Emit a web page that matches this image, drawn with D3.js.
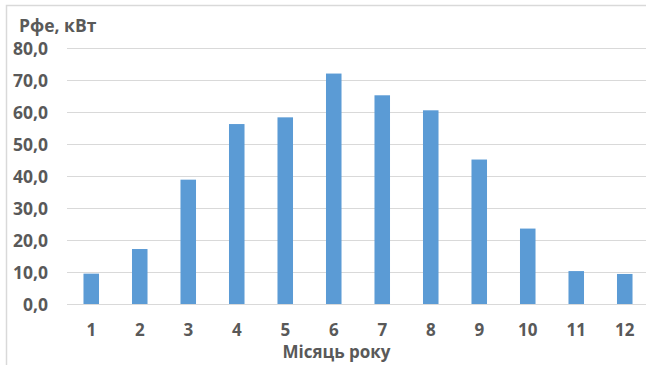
<!DOCTYPE html>
<html><head><meta charset="utf-8">
<script src="https://cdn.jsdelivr.net/npm/d3@7"></script>
<style>body{margin:0;background:#fff;overflow:hidden}svg{display:block}</style>
</head><body>
<script>
const months = ["1","2","3","4","5","6","7","8","9","10","11","12"];
const values = [9.5, 17.2, 38.9, 56.3, 58.4, 72.1, 65.3, 60.6, 45.2, 23.6, 10.3, 9.4];
const yTicks = [0,10,20,30,40,50,60,70,80];
const yTitle = "Рфе, кВт";
const xTitle = "Місяць року";

const W = 646, H = 365;
const svg = d3.select("body").append("svg").attr("width", W).attr("height", H);
svg.append("rect").attr("x",6.5).attr("y",5.5).attr("width",W+10).attr("height",H+10)
  .attr("fill","#fff").attr("stroke","#d9d9d9").attr("stroke-width",1.5);

const x = d3.scaleBand().domain(months).range([67, 649]).paddingInner(0.68).paddingOuter(0.34);
const y = d3.scaleLinear().domain([0,80]).range([304, 48.3]);
const font = "'Open Sans', sans-serif";
const grey = "#595959";

svg.append("g").selectAll("line").data(yTicks).join("line")
  .attr("x1",67).attr("x2",W).attr("y1",d=>Math.round(y(d))+0.5).attr("y2",d=>Math.round(y(d))+0.5)
  .attr("stroke","#d9d9d9").attr("stroke-width",1.2);

const fmt = d => d3.format(".1f")(d).replace(".", ",");
const yAxis = d3.axisLeft(y).tickValues(yTicks).tickFormat(fmt).tickSize(0).tickPadding(0);
const ya = svg.append("g").attr("transform","translate(48,0)").call(yAxis);
ya.select(".domain").remove();
ya.selectAll("text").attr("font-family",font).attr("font-size",17.5).attr("font-weight",700).attr("fill",grey).attr("dy","0.36em");

svg.append("g").selectAll("rect").data(values).join("rect")
  .attr("x",(d,i)=>x(months[i])).attr("width",x.bandwidth())
  .attr("y",d=>y(d)).attr("height",d=>y(0)-y(d))
  .attr("fill","#5b9bd5");

const xAxis = d3.axisBottom(x).tickSize(0).tickPadding(0);
const xa = svg.append("g").attr("transform","translate(0,335.5)").call(xAxis);
xa.select(".domain").remove();
xa.selectAll("text").attr("font-family",font).attr("font-size",17).attr("font-weight",700).attr("fill",grey).attr("dy",0);

svg.append("text").attr("x",19).attr("y",32).text(yTitle)
  .attr("font-family",font).attr("font-size",17.5).attr("font-weight",700).attr("fill",grey);
svg.append("text").attr("x",336.5).attr("y",358).attr("text-anchor","middle").text(xTitle)
  .attr("font-family",font).attr("font-size",17).attr("font-weight",700).attr("fill",grey);
</script>
</body></html>
